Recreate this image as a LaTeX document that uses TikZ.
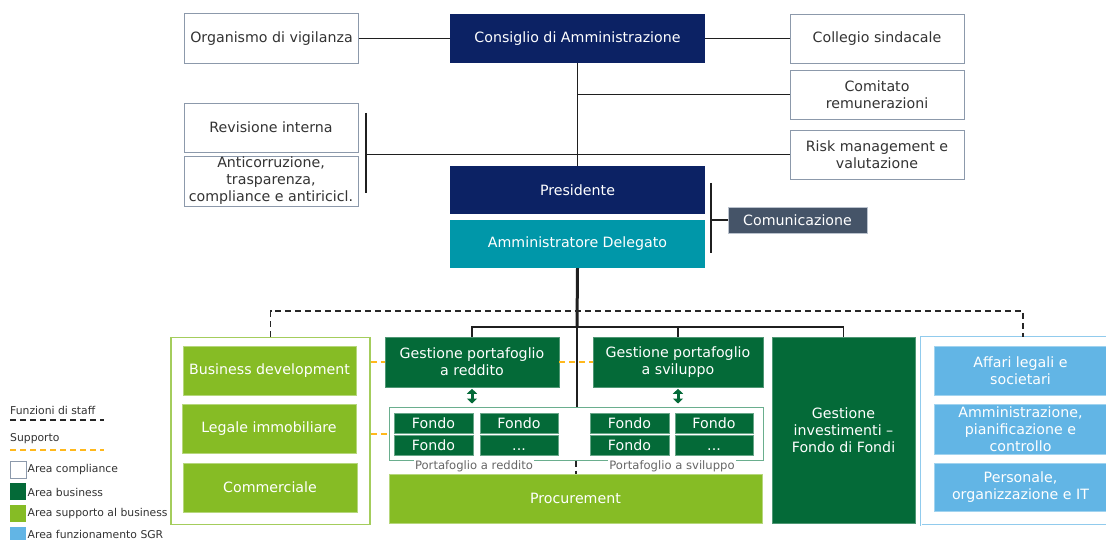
\documentclass[tikz,border=0pt]{standalone}
\usepackage{fontspec}
\setmainfont{DejaVu Sans}
\usetikzlibrary{arrows.meta}
\definecolor{navy}{HTML}{0C2264}
\definecolor{tealc}{HTML}{0097A9}
\definecolor{slate}{HTML}{455468}
\definecolor{dkgreen}{HTML}{046A38}
\definecolor{ltgreen}{HTML}{86BC25}
\definecolor{skyblue}{HTML}{62B5E5}
\definecolor{outgray}{HTML}{8C99AB}
\definecolor{txtgray}{HTML}{333333}
\definecolor{fundline}{HTML}{6AAE8E}
\definecolor{orangec}{HTML}{FFB81C}
\tikzset{
  base/.style={inner sep=1pt, align=center, font=\fontsize{14.2}{17}\selectfont},
  wbox/.style={base, draw=outgray, line width=0.9pt, fill=white, text=txtgray},
  navybox/.style={base, fill=navy, text=white},
  tealbox/.style={base, fill=tealc, text=white},
  slatebox/.style={base, fill=slate, text=white, draw=outgray!60, line width=0.6pt},
  dgbox/.style={base, fill=dkgreen, text=white, draw=dkgreen!70!white, line width=0.6pt},
  lgbox/.style={base, fill=ltgreen, text=white, draw=ltgreen!60!white, line width=0.6pt},
  bluebox/.style={base, fill=skyblue, text=white, draw=skyblue!60!white, line width=0.6pt},
  fondobox/.style={base, fill=dkgreen, text=white, draw=dkgreen!60!white, line width=0.6pt, minimum width=79pt, minimum height=20pt, inner sep=0pt},
  conn/.style={draw=black!88, line width=1.4pt},
  thickconn/.style={draw=black!88, line width=3pt},
  staff/.style={draw=black!85, line width=1.4pt, dash pattern=on 6pt off 4pt},
  supp/.style={draw=orangec, line width=1.6pt, dash pattern=on 6pt off 4pt},
  dblarrow/.style={draw=dkgreen, line width=3pt, {Triangle[width=10pt,length=5pt]}-{Triangle[width=10pt,length=5pt]}},
  plab/.style={fill=white, inner sep=1.5pt, text=black!60, font=\fontsize{11.6}{13}\selectfont},
  legtxt/.style={anchor=west, inner sep=0pt, text=txtgray, font=\fontsize{10.8}{12}\selectfont},
  legsq/.style={minimum width=16pt, minimum height=17pt, inner sep=0pt},
}
\begin{document}
\begin{tikzpicture}[x=1pt,y=-1pt]
\useasboundingbox (0,0) rectangle (1106,540);
\fill[white] (0,0) rectangle (1106,540);

% ---- top level
\node[wbox, minimum width=174pt, minimum height=50pt] (org) at (271.5,38.5) {Organismo di vigilanza};
\node[navybox, minimum width=255pt, minimum height=49pt] (cda) at (577.5,38.5) {Consiglio di Amministrazione};
\node[wbox, minimum width=174pt, minimum height=49pt] (coll) at (877,38.5) {Collegio sindacale};
\node[wbox, minimum width=174pt, minimum height=49pt] (comr) at (877,94.5) {Comitato\\remunerazioni};
\node[wbox, minimum width=174pt, minimum height=49pt] (risk) at (877,154.5) {Risk management e\\valutazione};
\node[wbox, minimum width=174pt, minimum height=49pt] (rev) at (271,127.5) {Revisione interna};
\node[wbox, minimum width=174pt, minimum height=50pt] (anti) at (271,181) {Anticorruzione,\\trasparenza,\\compliance e antiricicl.};
\node[navybox, minimum width=255pt, minimum height=48pt] (pres) at (577.5,190) {Presidente};
\node[tealbox, minimum width=255pt, minimum height=48pt] (ad) at (577.5,244) {Amministratore Delegato};
\node[slatebox, minimum width=139pt, minimum height=26pt] (com) at (797.5,220) {Comunicazione};

% top connectors
\draw[conn] (org.east) -- (org.east -| cda.west);
\draw[conn] (cda.east) -- (coll.west);
\draw[conn] (cda.south) -- (pres.north);
\draw[conn] (cda.south |- comr.west) -- (comr.west);
\coordinate (bl1) at (366,113);
\coordinate (bl2) at (366,193);
\draw[conn] (bl1) -- (bl2);
\draw[conn] (bl1 |- risk.west) -- (risk.west);
\coordinate (cb1) at (711,183);
\coordinate (cb2) at (711,253);
\draw[conn] (cb1) -- (cb2);
\draw[conn] (cb1 |- com.west) -- (com.west);

% ---- lower level
\node[draw=ltgreen!75!white, line width=1.6pt, minimum width=199pt, minimum height=187pt, inner sep=0pt] (lgrp) at (270.5,431) {};
\node[lgbox, minimum width=173pt, minimum height=49pt] (bd) at (269.5,370.5) {Business development};
\node[lgbox, minimum width=174pt, minimum height=49pt] (li) at (269,428.5) {Legale immobiliare};
\node[lgbox, minimum width=174pt, minimum height=49pt] (comm) at (270,487.5) {Commerciale};

\node[dgbox, minimum width=174pt, minimum height=50pt] (gpr) at (472,362) {Gestione portafoglio\\a reddito};
\node[dgbox, minimum width=170pt, minimum height=50pt] (gps) at (678,362) {Gestione portafoglio\\a sviluppo};

\node[draw=fundline, line width=1pt, minimum width=374pt, minimum height=53pt, inner sep=0pt] (fbox) at (576,433.5) {};
\node[fondobox] (f1) at (433.5,423) {Fondo};
\node[fondobox, minimum width=78pt] (f2) at (519,423) {Fondo};
\node[fondobox] (f3) at (433.5,445) {Fondo};
\node[fondobox, minimum width=78pt] (f4) at (519,445) {\vphantom{Fondo}...};
\node[fondobox] (f5) at (629.5,423) {Fondo};
\node[fondobox, minimum width=78pt] (f6) at (714,423) {Fondo};
\node[fondobox] (f7) at (629.5,445) {Fondo};
\node[fondobox, minimum width=78pt] (f8) at (714,445) {\vphantom{Fondo}...};
\node[plab] (pl1) at (474,466) {Portafoglio a reddito};
\node[plab] (pl2) at (672,466) {Portafoglio a sviluppo};

\node[lgbox, minimum width=373pt, minimum height=49pt] (proc) at (575.5,498.5) {Procurement};
\node[dgbox, minimum width=143pt, minimum height=186pt] (gif) at (843.5,430) {Gestione\\investimenti –\\Fondo di Fondi};

\node[draw=skyblue!70!white, double=white, double distance=1pt, line width=0.8pt, minimum width=204pt, minimum height=188pt, inner sep=0pt] (rgrp) at (1023,431) {};
\node[bluebox, minimum width=173pt, minimum height=49pt] (alf) at (1020.5,370.5) {Affari legali e\\societari};
\node[bluebox, minimum width=173pt, minimum height=50pt] (amm) at (1020.5,429) {Amministrazione,\\pianificazione e\\controllo};
\node[bluebox, minimum width=173pt, minimum height=48pt] (pers) at (1020.5,487) {Personale,\\organizzazione e IT};

% lower connectors
\coordinate (hub) at (577,327);
\coordinate (dsh) at (577,311);
\draw[thickconn] (ad.south) -- (hub);
\draw[conn] (hub) -- (hub |- fbox.north);
\draw[conn] (gpr.north) -- (gpr.north |- hub) -- (gif.north |- hub) -- (gif.north);
\draw[conn] (gps.north) -- (gps.north |- hub);
\draw[staff] (lgrp.north) -- (lgrp.north |- dsh) -- (rgrp.north |- dsh) -- (rgrp.north);
\draw[staff] (fbox.south) -- (fbox.south |- proc.north);
\draw[supp] (lgrp.east |- gpr.west) -- (gpr.west);
\draw[supp] (gpr.east) -- (gps.west);
\coordinate (o2) at (0,434);
\draw[supp] (lgrp.east |- o2) -- (fbox.west |- o2);
\draw[dblarrow, shorten <=1.5pt, shorten >=3pt] (gpr.south) -- (gpr.south |- fbox.north);
\draw[dblarrow, shorten <=1.5pt, shorten >=3pt] (gps.south) -- (gps.south |- fbox.north);

% ---- legend
\node[legtxt] (lg1) at (10,410) {Funzioni di staff};
\coordinate (lg1a) at (10,420);
\coordinate (lg1b) at (104,420);
\draw[staff] (lg1a) -- (lg1b);
\node[legtxt] (lg2) at (10,439) {Supporto};
\coordinate (lg2a) at (10,450);
\coordinate (lg2b) at (104,450);
\draw[supp] (lg2a) -- (lg2b);
\node[legsq, draw=outgray, fill=white, line width=0.8pt] (sq1) at (18,469.5) {};
\node[legtxt] at (27.5,469.5) {Area compliance};
\node[legsq, fill=dkgreen] (sq2) at (18,491.5) {};
\node[legtxt] at (27.5,492) {Area business};
\node[legsq, fill=ltgreen] (sq3) at (18,513.5) {};
\node[legtxt] at (27.5,514) {Area supporto al business};
\node[legsq, fill=skyblue] (sq4) at (18,535.5) {};
\node[legtxt] at (27.5,534.5) {Area funzionamento SGR};
\end{tikzpicture}
\end{document}
